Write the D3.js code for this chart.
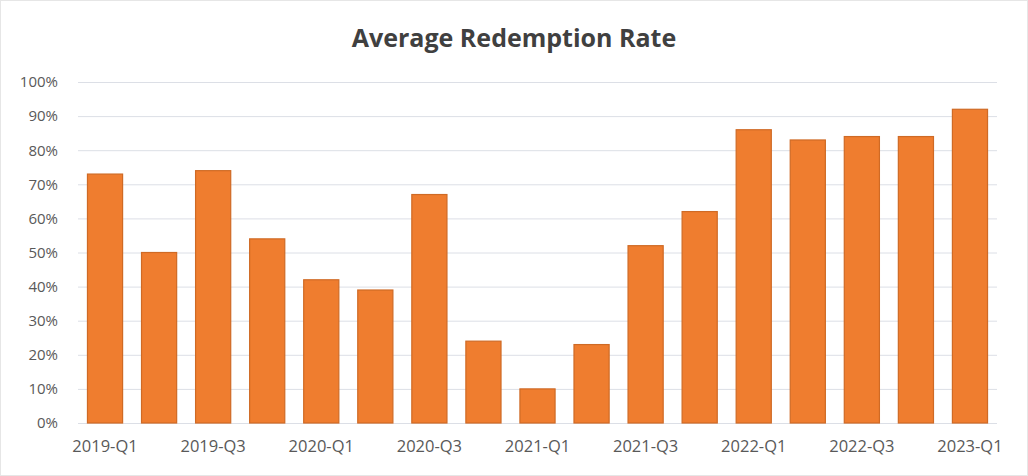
<!DOCTYPE html>
<html><head><meta charset="utf-8">
<script src="https://cdn.jsdelivr.net/npm/d3@7"></script>
<style>body{margin:0;background:#fff}svg{display:block}</style>
</head><body><svg id="c" width="1028" height="476"></svg>
<script>
const categories = ["2019-Q1","2019-Q2","2019-Q3","2019-Q4","2020-Q1","2020-Q2","2020-Q3","2020-Q4","2021-Q1","2021-Q2","2021-Q3","2021-Q4","2022-Q1","2022-Q2","2022-Q3","2022-Q4","2023-Q1"];
const values = [73,50,74,54,42,39,67,24,10,23,52,62,86,83,84,84,92];
const yTicks = [0,10,20,30,40,50,60,70,80,90,100];
const title = "Average Redemption Rate";

const svg = d3.select("#c");
const m = {left:78, right:1028-997, top:82, bottom:476-423};
const W = 1028, H = 476;
svg.append("rect").attr("x",0.5).attr("y",0.5).attr("width",W-1).attr("height",H-1).attr("fill","#fff").attr("stroke","#e6e6e6");
const x = d3.scaleBand().domain(categories).range([m.left, W-m.right]).paddingInner(0.35).paddingOuter(0.175);
const y = d3.scaleLinear().domain([0,100]).range([H-m.bottom, m.top]);
const font = "'Open Sans', 'Liberation Sans', sans-serif";

svg.append("text").attr("x",514).attr("y",47).attr("text-anchor","middle")
  .attr("font-family",font).attr("font-weight","bold").attr("font-size",25).attr("fill","#404040").text(title);

const gy = svg.append("g").attr("transform",`translate(${m.left},0)`)
  .call(d3.axisLeft(y).tickValues(yTicks).tickSize(-(W-m.left-m.right)).tickFormat(d=>d+"%").tickPadding(20));
gy.select(".domain").remove();
gy.selectAll("line").attr("stroke","#dcdfe6");
gy.selectAll("text").attr("font-family",font).attr("font-size",15).attr("fill","#595959");

svg.append("g").selectAll("rect").data(values).join("rect")
  .attr("x",(d,i)=>x(categories[i])).attr("width",x.bandwidth())
  .attr("y",d=>y(d)).attr("height",d=>y(0)-y(d))
  .attr("fill","#EF7D2F").attr("stroke","#CF6A25").attr("stroke-width",1.2);

const gx = svg.append("g").attr("transform",`translate(0,${H-m.bottom})`)
  .call(d3.axisBottom(x).tickValues(categories.filter((d,i)=>i%2===0)).tickSize(0).tickPadding(17));
gx.select(".domain").remove();
gx.selectAll("text").attr("font-family",font).attr("font-size",16.5).attr("fill","#595959");
</script></body></html>
